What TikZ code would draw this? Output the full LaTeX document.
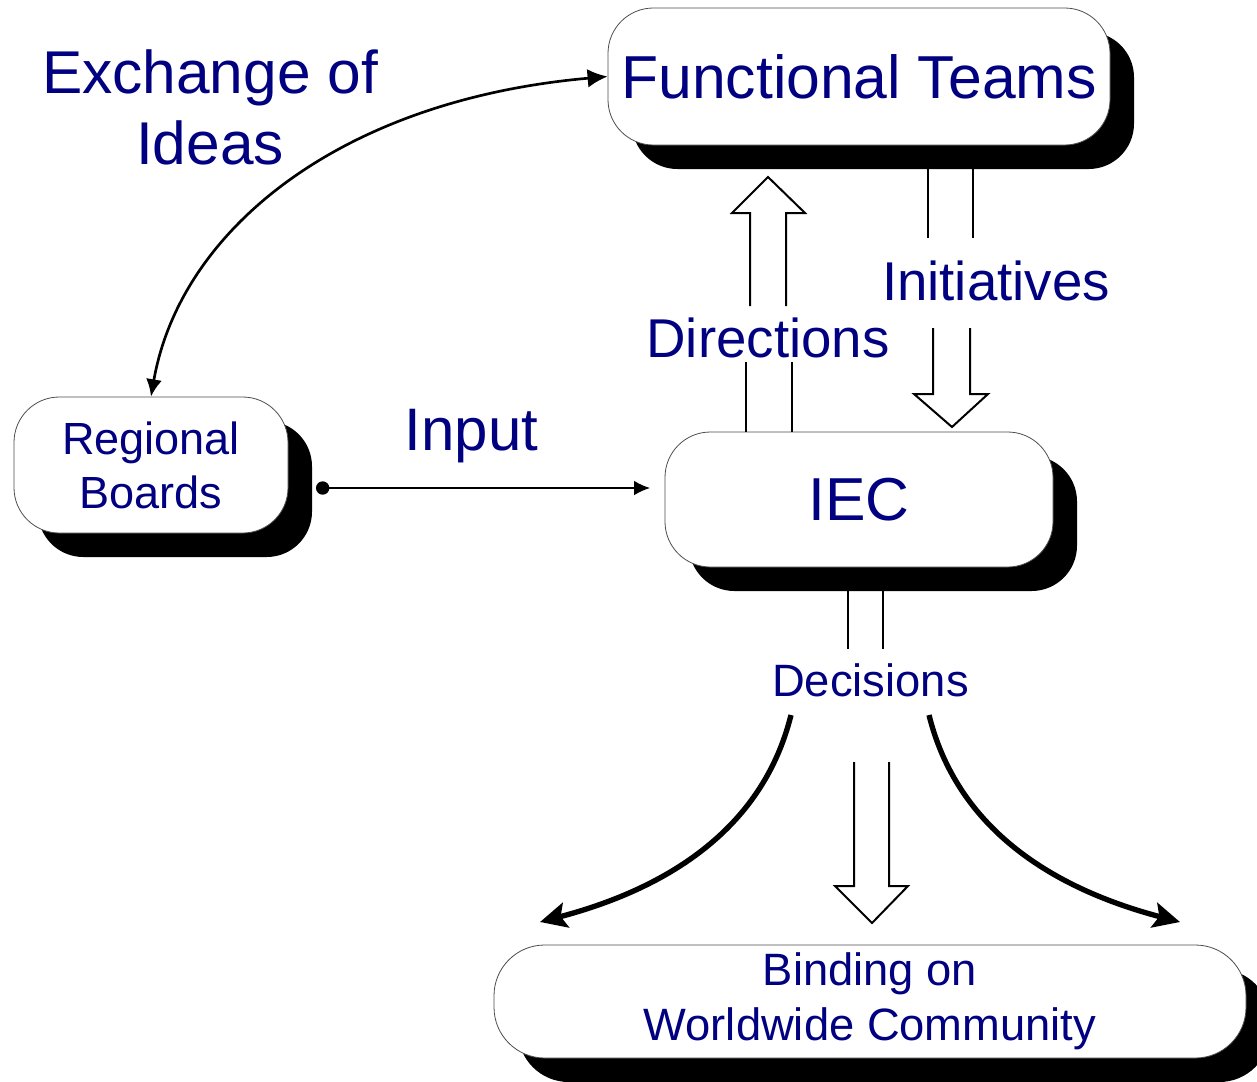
\documentclass[tikz,border=0pt]{standalone}
\usepackage{fontspec}
\setmainfont{Liberation Sans}
\usetikzlibrary{shadows,arrows.meta}
\definecolor{navytext}{RGB}{0,0,128}
\tikzset{
  shadowbox/.style={draw=black!70, line width=0.6pt, fill=white, rounded corners=34pt, inner sep=0pt, align=center, text=navytext,
    general shadow={fill=black, shadow xshift=18pt, shadow yshift=-18pt}},
  lbl/.style={text=navytext, inner sep=0pt},
  blockarrow/.style={line width=1.5pt, line join=miter},
}

\begin{document}
\begin{tikzpicture}[x=0.75pt,y=0.75pt,yscale=-1,xscale=1]
\useasboundingbox (0,0) rectangle (1257,1082);

%Shape: Rounded Rect [id:ft]
\node (ft) [shadowbox, minimum width=376.5pt, minimum height=102.75pt, font=\fontsize{45.5}{54}\selectfont] at (859,76.5) {Functional Teams};
%Shape: Rounded Rect [id:iec]
\node (iec) [shadowbox, minimum width=291pt, minimum height=101.25pt, font=\fontsize{45.5}{54}\selectfont] at (859,499.5) {IEC};
%Shape: Rounded Rect [id:rb]
\node (rb) [shadowbox, minimum width=205.5pt, minimum height=102pt, font=\fontsize{33.8}{40.5}\selectfont] at (151,465) {Regional\\Boards};
%Shape: Rounded Rect [id:wc]
\node (wc) [shadowbox, rounded corners=38pt, minimum width=564pt, minimum height=84.75pt, font=\fontsize{34}{41}\selectfont] at (870,1001.5) {Binding on\\Worldwide Community};

%Curve Lines [id:exch]
\draw [line width=2pt, {Latex[length=13pt,width=12pt]}-{Latex[length=15pt,width=14pt]}] (rb.north) .. controls (180,230) and (340,100) .. (ft.west) ;

%Straight Lines [id:input]
\coordinate (inS) at (316,488);
\coordinate (inE) at (650,488);
\draw [line width=1.1pt, {Circle[length=10pt]}-{Latex[length=12pt,width=11pt]}] (inS) -- (inE) ;

%Shape: Up Arrow [id:dirs]
\draw [blockarrow] (746,432) -- (746,362) (792,432) -- (792,362) ;
\draw [blockarrow] (750,306) -- (750,213) -- (732,213) -- (768,177) -- (805,213) -- (786,213) -- (786,306) ;
%Shape: Down Arrow [id:inits]
\draw [blockarrow] (928,168) -- (928,238) (973,168) -- (973,238) ;
\draw [blockarrow] (933,328) -- (933,394) -- (914,394) -- (952,427) -- (988,394) -- (970,394) -- (970,328) ;
%Shape: Down Arrow [id:decs]
\draw [blockarrow] (848,591) -- (848,649) (883,591) -- (883,649) ;
\draw [blockarrow] (854,762) -- (854,886) -- (835,886) -- (872,923) -- (908,886) -- (889,886) -- (889,762) ;

%Curve Lines [id:spreadL]
\coordinate (dL) at (791,715);
\coordinate (eL) at (540,922);
\draw [line width=4pt, -{Stealth[length=20pt,width=19pt,inset=4pt]}] (dL) .. controls (760,840) and (650,893) .. (eL) ;
%Curve Lines [id:spreadR]
\coordinate (dR) at (929,715);
\coordinate (eR) at (1180,922);
\draw [line width=4pt, -{Stealth[length=20pt,width=19pt,inset=4pt]}] (dR) .. controls (960,840) and (1070,893) .. (eR) ;

% Text Node
\node (xlbl) [lbl, align=center, font=\fontsize{45.3}{53.25}\selectfont] at (210,107) {Exchange of\\Ideas};
% Text Node
\node (inlbl) [lbl, anchor=base, font=\fontsize{45}{54}\selectfont] at (471.5,450) {Input};
% Text Node
\node (dirlbl) [lbl, anchor=base, font=\fontsize{41}{49}\selectfont] at (768,357) {Directions};
% Text Node
\node (inilbl) [lbl, anchor=base, font=\fontsize{41}{49}\selectfont] at (996,300) {Initiatives};
% Text Node
\node (declbl) [lbl, anchor=base, font=\fontsize{34}{41}\selectfont] at (870.5,696) {Decisions};

\end{tikzpicture}
\end{document}
